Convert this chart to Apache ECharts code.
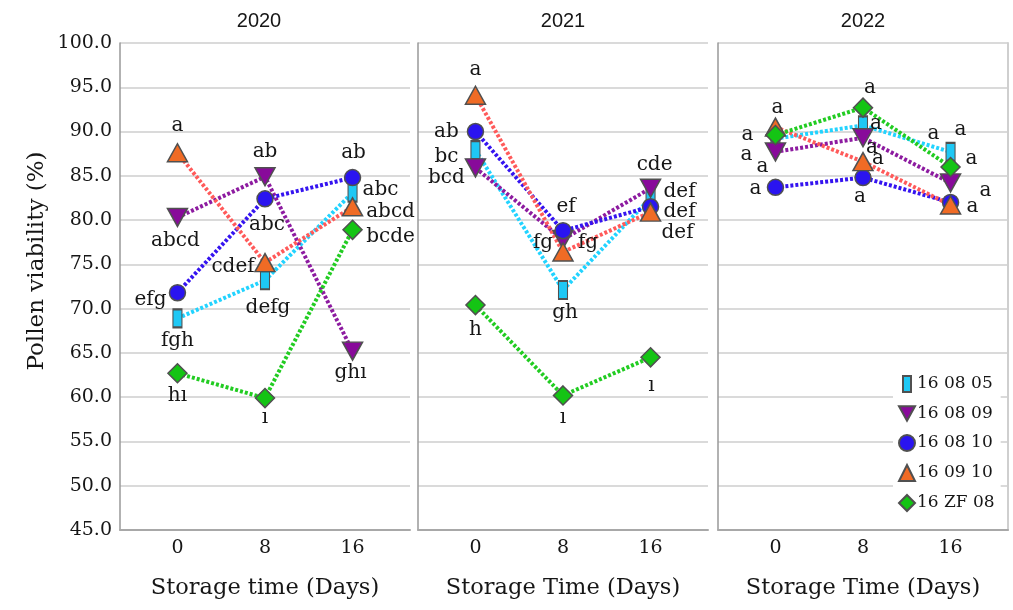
<!DOCTYPE html>
<html>
<head>
<meta charset="utf-8">
<script src="https://cdn.jsdelivr.net/npm/echarts@6/dist/echarts.min.js"></script>
<style>
html,body{margin:0;padding:0;background:#fff;}
#chart{width:1013px;height:610px;}
</style>
</head>
<body>
<div id="chart"></div>
<script>
// ---------- DATA ----------
const days = [0, 8, 16];
const years = ['2020', '2021', '2022'];
const varieties = ['16 08 05', '16 08 09', '16 08 10', '16 09 10', '16 ZF 08'];
const yTicks = [45, 50, 55, 60, 65, 70, 75, 80, 85, 90, 95, 100];
const xTitles = ['Storage time (Days)', 'Storage Time (Days)', 'Storage Time (Days)'];
const yTitle = 'Pollen viability (%)';

// pollen viability (%) at day 0, 8, 16
const v160805_2020 = [68.9, 73.2, 83.1];
const v160809_2020 = [80.3, 84.9, 65.2];
const v160810_2020 = [71.8, 82.4, 84.8];
const v160910_2020 = [87.6, 75.2, 81.5];
const v16ZF08_2020 = [62.7, 59.9, 78.9];

const v160805_2021 = [87.9, 72.1, 82.5];
const v160809_2021 = [85.9, 77.8, 83.6];
const v160810_2021 = [90.0, 78.8, 81.5];
const v160910_2021 = [94.1, 76.4, 80.9];
const v16ZF08_2021 = [70.4, 60.2, 64.5];

const v160805_2022 = [89.2, 90.7, 87.7];
const v160809_2022 = [87.7, 89.3, 84.2];
const v160810_2022 = [83.7, 84.8, 82.0];
const v160910_2022 = [90.5, 86.6, 81.7];
const v16ZF08_2022 = [89.6, 92.7, 86.0];

// significance letters
const l160805_2020 = ['fgh', 'defg', 'abc'];
const l160809_2020 = ['abcd', 'ab', 'ghı'];
const l160810_2020 = ['efg', 'abc', 'ab'];
const l160910_2020 = ['a', 'cdef', 'abcd'];
const l16ZF08_2020 = ['hı', 'ı', 'bcde'];

const l160805_2021 = ['bc', 'gh', 'def'];
const l160809_2021 = ['bcd', 'fg', 'cde'];
const l160810_2021 = ['ab', 'ef', 'def'];
const l160910_2021 = ['a', 'fg', 'def'];
const l16ZF08_2021 = ['h', 'ı', 'ı'];

const l160805_2022 = ['a', 'a', 'a'];
const l160809_2022 = ['a', 'a', 'a'];
const l160810_2022 = ['a', 'a', 'a'];
const l160910_2022 = ['a', 'a', 'a'];
const l16ZF08_2022 = ['a', 'a', 'a'];

// ---------- STYLE ----------
const FONT = 'DejaVu Serif';
const TXT = '#161616';
const gridLefts = [120, 418, 718];
const gridWidth = 290;
const gridTop = 43;
const gridHeight = 487;
const yearX = [259, 563, 863];

const seriesStyle = {
  '16 08 05': {symbol: 'path://M0,0L10,0L10,20L0,20Z', size: [9, 18], fill: '#1ec8f5', line: '#22d3ff'},
  '16 08 09': {symbol: 'path://M0,0L20,0L10,18Z', size: [20, 18], fill: '#880a9a', line: '#8d1ba0'},
  '16 08 10': {symbol: 'circle', size: 16, fill: '#2a14f0', line: '#3514f0'},
  '16 09 10': {symbol: 'triangle', size: [20, 18], fill: '#f06b25', line: '#ff5a5a'},
  '16 ZF 08': {symbol: 'diamond', size: [19, 19], fill: '#14c414', line: '#22cc22'}
};

// label offsets (px) relative to each point, per panel, per variety
const labelOffsets = [
  { // 2020
    '16 08 05': [[0, 22], [3, 27], [28, -3]],
    '16 08 09': [[-2, 23], [0, -25], [-2, 22]],
    '16 08 10': [[-27, 7], [2, 26], [1, -25]],
    '16 09 10': [[0, -27], [-32, 4], [38, 5]],
    '16 ZF 08': [[0, 23], [0, 20], [38, 7]]
  },
  { // 2021
    '16 08 05': [[-29, 7], [2, 23], [29, -6]],
    '16 08 09': [[-29, 10], [-20, 3], [4, -23]],
    '16 08 10': [[-29, 0], [3, -24], [29, 5]],
    '16 09 10': [[0, -25], [25, -9], [27, 21]],
    '16 ZF 08': [[0, 25], [0, 22], [1, 28]]
  },
  { // 2022
    '16 08 05': [[-13, 28], [13, -2], [-17, -18]],
    '16 08 09': [[-29, 3], [9, 10], [35, 8]],
    '16 08 10': [[-20, 1], [-3, 19], [22, 4]],
    '16 09 10': [[2, -19], [15, -3], [10, -75]],
    '16 ZF 08': [[-28, 0], [7, -20], [21, -8]]
  }
];

// ---------- BUILD ----------
const valueTable = [
  {'16 08 05': v160805_2020, '16 08 09': v160809_2020, '16 08 10': v160810_2020, '16 09 10': v160910_2020, '16 ZF 08': v16ZF08_2020},
  {'16 08 05': v160805_2021, '16 08 09': v160809_2021, '16 08 10': v160810_2021, '16 09 10': v160910_2021, '16 ZF 08': v16ZF08_2021},
  {'16 08 05': v160805_2022, '16 08 09': v160809_2022, '16 08 10': v160810_2022, '16 09 10': v160910_2022, '16 ZF 08': v16ZF08_2022}
];
const letterTable = [
  {'16 08 05': l160805_2020, '16 08 09': l160809_2020, '16 08 10': l160810_2020, '16 09 10': l160910_2020, '16 ZF 08': l16ZF08_2020},
  {'16 08 05': l160805_2021, '16 08 09': l160809_2021, '16 08 10': l160810_2021, '16 09 10': l160910_2021, '16 ZF 08': l16ZF08_2021},
  {'16 08 05': l160805_2022, '16 08 09': l160809_2022, '16 08 10': l160810_2022, '16 09 10': l160910_2022, '16 ZF 08': l16ZF08_2022}
];

const grids = [], xAxes = [], yAxes = [], series = [];
years.forEach((yr, p) => {
  grids.push({left: gridLefts[p], top: gridTop, width: gridWidth, height: gridHeight, containLabel: false});
  xAxes.push({
    type: 'value', gridIndex: p, min: -5.25, max: 21.25,
    axisLine: {show: true, onZero: false, lineStyle: {color: '#a8a8a8', width: 2}},
    axisTick: {show: false},
    splitLine: {show: false},
    axisLabel: {customValues: days, margin: 9, color: TXT, fontFamily: FONT, fontSize: 19},
    name: xTitles[p], nameLocation: 'middle', nameGap: 47,
    nameTextStyle: {color: TXT, fontFamily: FONT, fontSize: 22.5}
  });
  yAxes.push({
    type: 'value', gridIndex: p, min: yTicks[0], max: yTicks[yTicks.length - 1], interval: 5,
    axisLine: {show: true, onZero: false, lineStyle: {color: '#999', width: 1.5}},
    axisTick: {show: false},
    splitLine: {show: true, lineStyle: {color: '#dadada', width: 2}},
    axisLabel: {show: p === 0, margin: 8, color: TXT, fontFamily: FONT, fontSize: 19,
      formatter: v => v.toFixed(1)}
  });
  varieties.forEach(name => {
    const st = seriesStyle[name];
    const vals = valueTable[p][name];
    const letters = letterTable[p][name];
    const offs = labelOffsets[p][name];
    series.push({
      type: 'line', name: name, xAxisIndex: p, yAxisIndex: p,
      symbol: st.symbol, symbolSize: st.size,
      itemStyle: {color: st.fill, borderColor: '#505050', borderWidth: 1.5},
      lineStyle: {color: st.line, width: 4, type: [3, 2]},
      clip: false,
      z: 3,
      label: {show: true, position: 'inside', color: TXT, fontFamily: FONT, fontSize: 20},
      data: days.map((d, i) => ({
        value: [d, vals[i]],
        label: {formatter: letters[i], offset: offs[i]}
      }))
    });
  });
});
// right border of the last panel
yAxes.push({
  type: 'value', gridIndex: 2, position: 'right', min: 45, max: 100,
  axisLine: {show: true, onZero: false, lineStyle: {color: '#cfcfcf', width: 2}},
  axisTick: {show: false}, axisLabel: {show: false}, splitLine: {show: false}
});

const option = {
  animation: false,
  backgroundColor: '#fff',
  grid: grids,
  xAxis: xAxes,
  yAxis: yAxes,
  series: series,
  legend: {
    orient: 'vertical', left: 893, top: 370,
    backgroundColor: '#fff', padding: [5, 6, 5, 5],
    itemWidth: 16, itemHeight: 16, itemGap: 12,
    textStyle: {color: TXT, fontFamily: FONT, fontSize: 17, padding: [0, 0, 0, -3]},
    data: varieties.map(n => ({name: n, icon: seriesStyle[n].symbol})),
    z: 10
  },
  graphic: [
    ...years.map((yr, p) => ({
      type: 'text', x: yearX[p], y: 21,
      style: {text: yr, fontFamily: 'Liberation Sans', fontSize: 20, fill: TXT,
        textAlign: 'center', textVerticalAlign: 'middle'}
    })),
    {
      type: 'text', x: 37, y: 261, rotation: Math.PI / 2,
      style: {text: yTitle, fontFamily: FONT, fontSize: 23, fill: TXT,
        textAlign: 'center', textVerticalAlign: 'middle'}
    }
  ]
};

const chart = echarts.init(document.getElementById('chart'), null, {renderer: 'canvas'});
chart.setOption(option);
</script>
</body>
</html>
